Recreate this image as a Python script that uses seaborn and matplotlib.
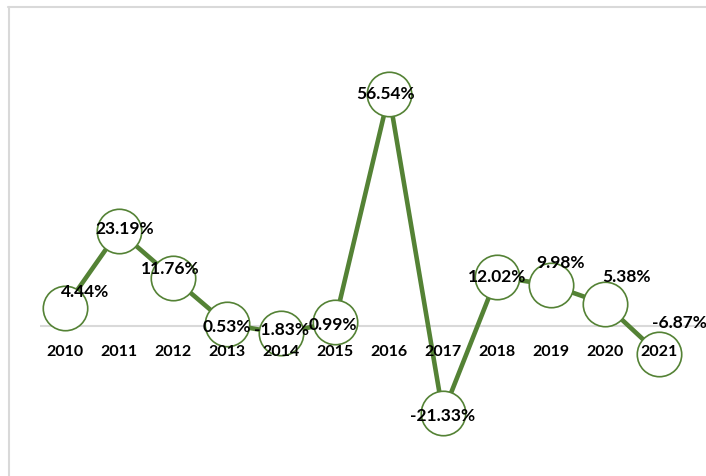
import matplotlib
matplotlib.use("Agg")
import matplotlib.pyplot as plt
import matplotlib.lines as mlines
import seaborn as sns
import pandas as pd

years = ["2010", "2011", "2012", "2013", "2014", "2015",
         "2016", "2017", "2018", "2019", "2020", "2021"]
growth = [4.44, 23.19, 11.76, 0.53, -1.83, 0.99,
          56.54, -21.33, 12.02, 9.98, 5.38, -6.87]
labels = [f"{v:.2f}%" for v in growth]

# label offsets in pixels (style only)
label_offsets = [(20, 17), (6, 3), (-3, 10), (0, -2), (1, 4), (-2, -2),
                 (-3, 1), (0, -2), (0, 1), (10, 23), (21, 28), (20, 32)]

sns.set_theme(style="white")
plt.rcParams['font.family'] = ['Lato', 'DejaVu Sans']

W, H, DPI = 706, 477, 100
fig = plt.figure(figsize=(W / DPI, H / DPI), dpi=DPI)
ax = fig.add_axes([40 / W, 0, (W - 40) / W, 1])

df = pd.DataFrame({"pos": range(len(years)), "growth": growth})
green = "#548235"
sns.lineplot(data=df, x="pos", y="growth", ax=ax, color=green, linewidth=3.3,
             marker="o", markersize=32, markerfacecolor="white",
             markeredgecolor=green, markeredgewidth=1.2, zorder=3)

ax.set_xlim(-0.46, 11.87)
ax.set_ylim(-36.59, 79.76)
ax.axhline(0, color="#d9d9d9", linewidth=1.5, zorder=1)
ax.axis("off")

for i, (lab, off) in enumerate(zip(labels, label_offsets)):
    ax.annotate(lab, xy=(i, growth[i]), xytext=off, textcoords="offset pixels",
                ha="center", va="center", fontsize=12.5, fontweight="bold",
                color="black", zorder=5)

for i, yr in enumerate(years):
    ax.annotate(yr, xy=(i, 0), xytext=(0, -25), textcoords="offset pixels",
                ha="center", va="center", fontsize=11.5, fontweight="bold",
                color="black", zorder=5)

# chart border (top and left)
fig.add_artist(mlines.Line2D([8 / W, 1], [1 - 7.5 / H, 1 - 7.5 / H],
                             transform=fig.transFigure, color="#d9d9d9", linewidth=1.5))
fig.add_artist(mlines.Line2D([8.5 / W, 8.5 / W], [0, 1 - 7.5 / H],
                             transform=fig.transFigure, color="#d9d9d9", linewidth=1.5))

fig.savefig("out.png", dpi=DPI, facecolor="white")
